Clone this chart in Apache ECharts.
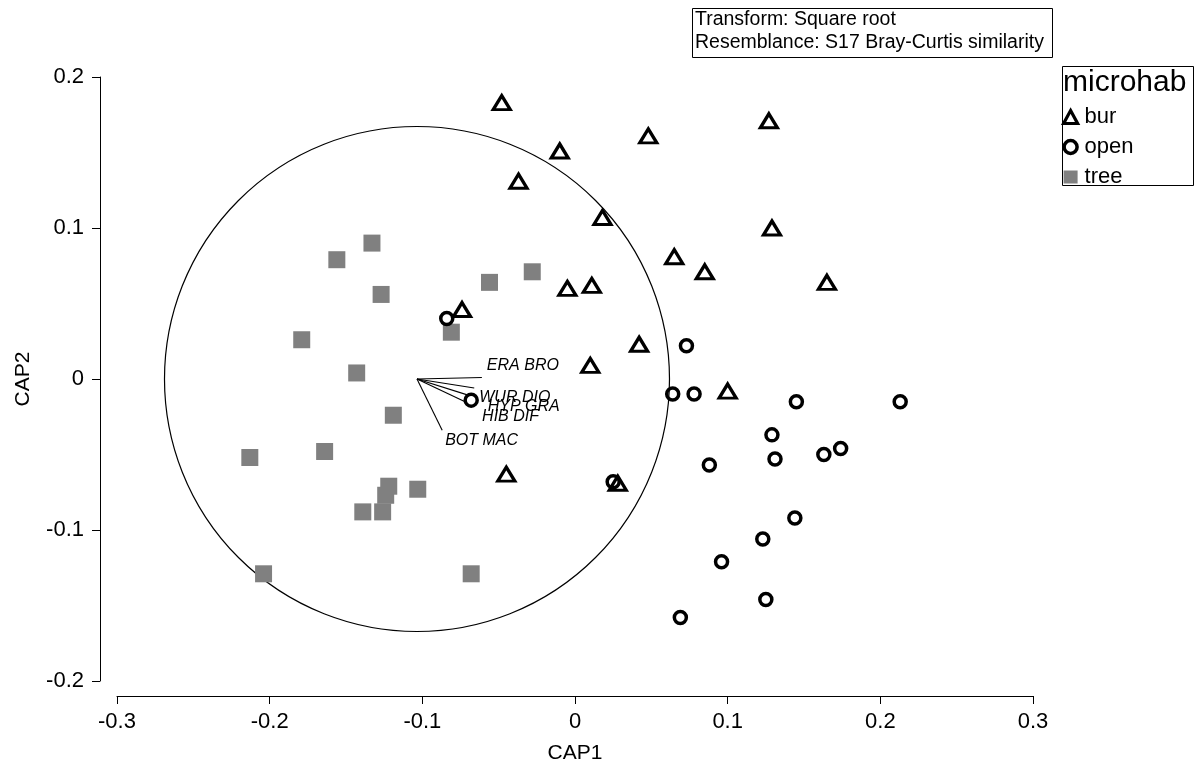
<!DOCTYPE html>
<html>
<head>
<meta charset="utf-8">
<script src="https://cdn.jsdelivr.net/npm/echarts@6/dist/echarts.min.js"></script>
<style>
html, body { margin: 0; padding: 0; background: #fff; }
#cap-chart { width: 1194px; height: 769px; }
</style>
</head>
<body>
<div id="cap-chart"></div>
<script>
// CAP1 / CAP2 scores, one list per microhabitat
const burPoints = [
  [-0.048, 0.183], [-0.010, 0.151], [0.048, 0.161], [0.127, 0.171],
  [-0.037, 0.131], [0.018, 0.107], [0.129, 0.100], [0.065, 0.081],
  [0.085, 0.071], [0.165, 0.064], [-0.005, 0.060], [0.011, 0.062],
  [-0.074, 0.046], [0.042, 0.023], [0.010, 0.009], [0.100, -0.008],
  [-0.045, -0.063], [0.028, -0.069]
]
const openPoints = [
  [-0.084, 0.040], [0.073, 0.022], [0.064, -0.010], [0.078, -0.010],
  [0.145, -0.015], [0.213, -0.015], [-0.068, -0.014], [0.129, -0.037],
  [0.131, -0.053], [0.088, -0.057], [0.163, -0.050], [0.174, -0.046],
  [0.025, -0.068], [0.144, -0.092], [0.123, -0.106], [0.096, -0.121],
  [0.125, -0.146], [0.069, -0.158]
]
const treePoints = [
  [-0.133, 0.090], [-0.156, 0.079], [-0.127, 0.056], [-0.056, 0.064],
  [-0.028, 0.071], [-0.081, 0.031], [-0.179, 0.026], [-0.143, 0.004],
  [-0.119, -0.024], [-0.164, -0.048], [-0.213, -0.052], [-0.122, -0.071],
  [-0.124, -0.077], [-0.139, -0.088], [-0.126, -0.088], [-0.103, -0.073],
  [-0.204, -0.129], [-0.068, -0.129]
]

// species vectors (drawn from the circle centre)
const vectorNames = ['ERA BRO', 'WUR DIO', 'HYP GRA', 'HIB DIF', 'BOT MAC']
const vectorEnds = [
  [-0.061, 0.001], [-0.066, -0.006], [-0.069, -0.011], [-0.072, -0.015], [-0.087, -0.034]
]
const circleCentre = [-0.1035, 0]
const circleRadius = 0.1663

const groupNames = ['bur', 'open', 'tree']
const xRange = [-0.3, 0.3]
const yRange = [-0.2, 0.2]
const tickStep = 0.1

// pixel nudges for the vector labels
const labelOffsets = [[5, -12], [5, 9], [18, 11], [17, 15], [3, 10]]

const FONT = '"Liberation Sans", Arial, sans-serif'

const chart = echarts.init(document.getElementById('cap-chart'))

const axisCommon = {
  type: 'value',
  interval: tickStep,
  axisLine: { show: true, onZero: false, lineStyle: { color: '#000', width: 1 } },
  axisTick: { show: true, length: 8, lineStyle: { color: '#000', width: 1 } },
  splitLine: { show: false },
  axisLabel: { color: '#000', fontSize: 22, fontFamily: FONT },
  nameLocation: 'middle',
  nameTextStyle: { color: '#000', fontSize: 21, fontFamily: FONT }
}

const triStyle = { color: 'rgba(255,255,255,0)', borderColor: '#000', borderWidth: 3.2, borderJoin: 'miter', opacity: 1 }
const ringStyle = { color: 'rgba(255,255,255,0)', borderColor: '#000', borderWidth: 3.5, opacity: 1 }
const squareStyle = { color: '#808080', borderWidth: 0, opacity: 1 }

chart.setOption({
  animation: false,
  backgroundColor: '#fff',
  grid: { left: 117, right: 161, top: 77, bottom: 83 },
  xAxis: Object.assign({}, axisCommon, {
    min: xRange[0], max: xRange[1],
    offset: 15,
    name: 'CAP1', nameGap: 47,
    axisLabel: Object.assign({}, axisCommon.axisLabel, { margin: 15 })
  }),
  yAxis: Object.assign({}, axisCommon, {
    min: yRange[0], max: yRange[1],
    offset: 17,
    name: 'CAP2', nameGap: 66,
    axisLabel: Object.assign({}, axisCommon.axisLabel, { margin: 16 })
  }),
  legend: {
    data: [
      { name: groupNames[0], itemStyle: triStyle },
      { name: groupNames[1], itemStyle: ringStyle },
      { name: groupNames[2], itemStyle: squareStyle }
    ],
    orient: 'vertical',
    left: 1062,
    top: 106,
    padding: 0,
    itemWidth: 14,
    itemHeight: 13,
    itemGap: 8,
    selectedMode: false,
    textStyle: { color: '#000', fontSize: 22, fontFamily: FONT, lineHeight: 22, padding: [0, 0, 0, 2] }
  },
  graphic: [
    {
      type: 'rect', left: 692, top: 8,
      shape: { width: 360, height: 49 },
      style: { fill: '#fff', stroke: '#000', lineWidth: 1 }
    },
    {
      type: 'text', left: 695, top: 10,
      style: { text: 'Transform: Square root', fontSize: 19.5, fontFamily: FONT, fill: '#000' }
    },
    {
      type: 'text', left: 695, top: 33,
      style: { text: 'Resemblance: S17 Bray-Curtis similarity', fontSize: 19.5, fontFamily: FONT, fill: '#000' }
    },
    {
      type: 'rect', left: 1060, top: 64,
      shape: { width: 131, height: 119 },
      style: { fill: 'none', stroke: '#000', lineWidth: 1 }
    },
    {
      type: 'text', left: 1063, top: 68,
      style: { text: 'microhab', fontSize: 30, fontFamily: FONT, fill: '#000' }
    }
  ],
  series: [
    {
      type: 'custom',
      silent: true,
      data: [[circleCentre[0], circleCentre[1], circleRadius]],
      encode: { x: 0, y: 1 },
      renderItem: function (params, api) {
        const c = api.coord([api.value(0), api.value(1)])
        const s = api.size([api.value(2), api.value(2)])
        return {
          type: 'circle',
          shape: { cx: c[0], cy: c[1], r: (s[0] + s[1]) / 2 },
          style: { fill: 'none', stroke: '#000', lineWidth: 1.2 }
        }
      },
      z: 1
    },
    {
      type: 'custom',
      silent: true,
      data: vectorEnds.map((e, i) => [circleCentre[0], circleCentre[1], e[0], e[1], i]),
      encode: { x: [0, 2], y: [1, 3] },
      renderItem: function (params, api) {
        const p0 = api.coord([api.value(0), api.value(1)])
        const p1 = api.coord([api.value(2), api.value(3)])
        const i = api.value(4)
        const off = labelOffsets[i]
        return {
          type: 'group',
          children: [
            {
              type: 'line',
              shape: { x1: p0[0], y1: p0[1], x2: p1[0], y2: p1[1] },
              style: { stroke: '#000', lineWidth: 1.1 }
            },
            {
              type: 'text',
              x: p1[0] + off[0],
              y: p1[1] + off[1],
              style: {
                text: vectorNames[i],
                fontSize: 16, fontStyle: 'italic', fontFamily: FONT,
                fill: '#000', align: 'left', verticalAlign: 'middle'
              }
            }
          ]
        }
      },
      z: 1
    },
    {
      name: 'tree',
      type: 'scatter',
      data: treePoints,
      symbol: 'rect',
      symbolSize: 17,
      itemStyle: squareStyle,
      z: 2
    },
    {
      name: 'open',
      type: 'scatter',
      data: openPoints,
      symbol: 'circle',
      symbolSize: 12,
      itemStyle: ringStyle,
      z: 3
    },
    {
      name: 'bur',
      type: 'scatter',
      data: burPoints,
      symbol: 'triangle',
      symbolSize: [17, 14],
      itemStyle: triStyle,
      z: 4
    }
  ]
})
</script>
</body>
</html>
